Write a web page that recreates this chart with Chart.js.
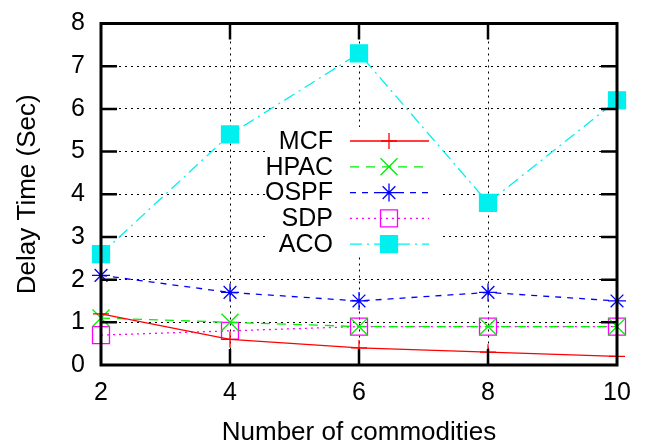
<!DOCTYPE html>
<html><head><meta charset="utf-8">
<script src="https://cdn.jsdelivr.net/npm/chart.js@4/dist/chart.umd.min.js"></script>
<style>html,body{margin:0;padding:0;background:#fff}#w{width:646px;height:448px}</style>
</head><body><div id="w"><canvas id="c" width="646" height="448"></canvas></div>
<script>
const commodities = [2, 4, 6, 8, 10];
const mcf  = [1.2, 0.6, 0.4, 0.3, 0.2];
const hpac = [1.1, 1.0, 0.9, 0.9, 0.9];
const ospf = [2.1, 1.7, 1.5, 1.7, 1.5];
const sdp  = [0.7, 0.8, 0.9, 0.9, 0.9];
const aco  = [2.6, 5.4, 7.3, 3.8, 6.2];
const seriesNames = ['MCF', 'HPAC', 'OSPF', 'SDP', 'ACO'];
const yTicks = [0,1,2,3,4,5,6,7,8];
const xTicks = commodities;

const FONT = 'Liberation Sans, Arial, sans-serif';
const toXY = arr => arr.map((v,i)=>({x: commodities[i], y: v}));

const styles = [
  {color:'#ff0000', dash:[], style:'cross', r:8, fill:false},
  {color:'#00ee00', dash:[9,7], style:'crossRot', r:12, fill:false},
  {color:'#0000ff', dash:[6,6], style:'star', r:9, fill:false},
  {color:'#ff00ff', dash:[2,4], style:'rect', r:12, fill:false},
  {color:'#00f0f0', dash:[12,5,2,5], style:'rect', r:12, fill:true},
];
const values = [mcf, hpac, ospf, sdp, aco];

const datasets = values.map((v,i)=>({
  label: seriesNames[i],
  data: toXY(v),
  borderColor: styles[i].color,
  backgroundColor: styles[i].fill ? styles[i].color : 'rgba(0,0,0,0)',
  pointBorderColor: styles[i].color,
  pointBackgroundColor: styles[i].fill ? styles[i].color : 'rgba(0,0,0,0)',
  borderWidth: 1.3,
  borderDash: styles[i].dash,
  pointStyle: styles[i].style,
  pointRadius: styles[i].r,
  pointBorderWidth: 1.3,
  pointHoverRadius: styles[i].r,
  tension: 0,
  fill: false,
  clip: false
}));

const framePlugin = {
  id: 'frame',
  afterDraw(chart) {
    const {ctx, chartArea: a, scales} = chart;
    ctx.save();
    ctx.strokeStyle = '#000';
    ctx.lineWidth = 2.5;
    const L = 16;
    ctx.beginPath();
    yTicks.forEach(t => {
      const y = scales.y.getPixelForValue(t);
      if (t !== 0 && t !== 8) {
        ctx.moveTo(a.left, y); ctx.lineTo(a.left + L, y);
        ctx.moveTo(a.right, y); ctx.lineTo(a.right - L, y);
      }
    });
    xTicks.forEach(t => {
      const x = scales.x.getPixelForValue(t);
      if (t !== 2 && t !== 10) {
        ctx.moveTo(x, a.bottom); ctx.lineTo(x, a.bottom - L);
        ctx.moveTo(x, a.top); ctx.lineTo(x, a.top + L);
      }
    });
    ctx.stroke();
    ctx.lineWidth = 3;
    ctx.strokeRect(a.left, a.top, a.right - a.left, a.bottom - a.top);
    ctx.restore();
  }
};

const legendPlugin = {
  id: 'customLegend',
  beforeDatasetsDraw(chart) {
    const {ctx} = chart;
    ctx.save();
    ctx.fillStyle = '#fff';
    ctx.fillRect(268, 127, 175, 130);
    ctx.restore();
  },
  afterDatasetsDraw(chart) {
    const {ctx} = chart;
    ctx.save();
    ctx.font = '25px ' + FONT;
    ctx.textAlign = 'right';
    ctx.textBaseline = 'middle';
    const y0 = 141, dy = 25.8;
    chart.data.datasets.forEach((ds, i) => {
      const y = y0 + i * dy;
      ctx.fillStyle = '#000';
      ctx.fillText(ds.label, 333, y + 1);
      ctx.save();
      ctx.strokeStyle = ds.borderColor;
      ctx.lineWidth = 1.3;
      ctx.setLineDash(ds.borderDash);
      ctx.beginPath();
      ctx.moveTo(350, y); ctx.lineTo(429, y);
      ctx.stroke();
      ctx.restore();
      ctx.save();
      ctx.strokeStyle = ds.pointBorderColor;
      ctx.fillStyle = ds.pointBackgroundColor;
      ctx.lineWidth = 1.3;
      ctx.setLineDash([]);
      Chart.helpers.drawPoint(ctx, {pointStyle: ds.pointStyle, radius: ds.pointRadius, rotation: 0, borderWidth: 1.3}, 389, y);
      ctx.restore();
    });
    ctx.restore();
  }
};

new Chart(document.getElementById('c'), {
  type: 'line',
  data: { datasets },
  options: {
    responsive: false,
    animation: false,
    devicePixelRatio: 1,
    layout: { padding: { top: 20, right: 29, left: 12, bottom: 0 } },
    plugins: { legend: { display: false }, tooltip: { enabled: false } },
    scales: {
      x: {
        type: 'linear', min: 2, max: 10,
        afterBuildTicks: s => { s.ticks = xTicks.map(v => ({value: v})); },
        afterFit: s => { s.height = 83; },
        grid: { color: '#000', lineWidth: 1, drawTicks: false },
        border: { display: false, dash: [2, 4] },
        ticks: { color: '#000', font: { family: FONT, size: 25 }, padding: 13, maxRotation: 0 },
        title: { display: true, text: 'Number of commodities', color: '#000', font: { family: FONT, size: 26 }, padding: { top: 4, bottom: 0 } }
      },
      y: {
        type: 'linear', min: 0, max: 8,
        afterBuildTicks: s => { s.ticks = yTicks.map(v => ({value: v})); },
        afterFit: s => { s.width = 89; },
        grid: { color: '#000', lineWidth: 1, drawTicks: false },
        border: { display: false, dash: [2, 4] },
        ticks: { color: '#000', font: { family: FONT, size: 25, lineHeight: 0.6 }, padding: 16 },
        title: { display: true, text: 'Delay Time (Sec)', color: '#000', font: { family: FONT, size: 26 }, padding: { top: 0, bottom: 6 } }
      }
    }
  },
  plugins: [framePlugin, legendPlugin]
});
</script>
</body></html>
